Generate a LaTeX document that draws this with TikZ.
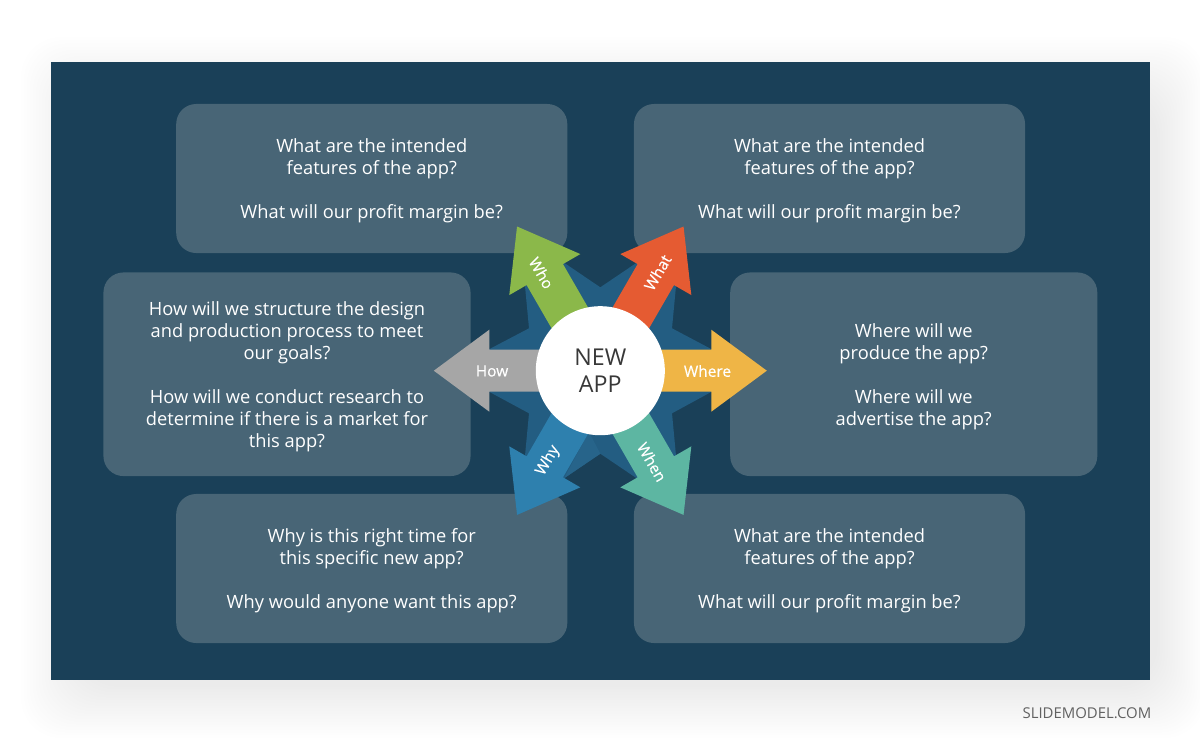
\documentclass[tikz,border=0pt]{standalone}
\usepackage{fontspec}
\setmainfont{Open Sans}
\newfontfamily\tagfont[FakeBold=0.3]{Open Sans}
\usepackage{xcolor}
\usetikzlibrary{positioning}

\definecolor{panelblue}{HTML}{1A4058}
\definecolor{boxblue}{HTML}{486576}
\definecolor{starblue}{HTML}{235D82}
\definecolor{facetblue}{HTML}{27648A}
\definecolor{whogreen}{HTML}{8BB84A}
\definecolor{whatred}{HTML}{E55B32}
\definecolor{whereyellow}{HTML}{EFB546}
\definecolor{howgrey}{HTML}{A6A6A6}
\definecolor{whyblue}{HTML}{2E80AE}
\definecolor{whenteal}{HTML}{5DB6A2}

% drops a box's text a little below its centre
\newcommand{\droptext}{\rule{0pt}{13.2pt}}

\tikzset{
  widebox/.style={fill=boxblue, rounded corners=0.5cm, inner sep=0pt, align=center, text=white,
    minimum width=9.775cm, minimum height=3.725cm,
    font=\fontsize{13}{15.65}\selectfont},
  tallbox/.style={widebox, minimum width=9.175cm, minimum height=5.09cm},
  tag/.style={text=white, inner sep=0pt, font=\tagfont\fontsize{11}{13}\selectfont}
}

\begin{document}
\begin{tikzpicture}[x=0.025cm, y=-0.025cm]
\useasboundingbox (0,0) rectangle (1200,743);

% soft shadow under the panel
\foreach \i in {0,...,19}
  \fill [black, opacity=0.0055, rounded corners=1cm]
  (51-30+3*\i,62-25+3.2*\i) rectangle (1150+55-2.5*\i,680+58-2.7*\i);

\fill [panelblue] (51,62) rectangle (1150,680);

\node [widebox] (whobox) at (371.75,178.5) {\droptext What are the intended\\features of the app?\\[15.65pt]What will our profit margin be?};
\node [widebox] (whatbox) at (829.5,178.5) {\droptext What are the intended\\features of the app?\\[15.65pt]What will our profit margin be?};
\node [tallbox] (howbox) at (287,374.25) {\droptext How will we structure the design\\and production process to meet\\our goals?\\[15.65pt]How will we conduct research to\\determine if there is a market for\\this app?};
\node [tallbox] (wherebox) at (913.75,374.25) {\droptext Where will we\\produce the app?\\[15.65pt]Where will we\\advertise the app?};
\node [widebox] (whybox) at (371.75,568.5) {\droptext Why is this right time for\\this specific new app?\\[15.65pt]Why would anyone want this app?};
\node [widebox] (whenbox) at (829.5,568.5) {\droptext What are the intended\\features of the app?\\[15.65pt]What will our profit margin be?};

% star behind the arrows
\fill [starblue]
(600.3,287.3) -- (636.7,262.7) -- (676,286) -- (672,328.3) -- (711.7,349.3) --
(711.7,391.7) -- (672,413.3) -- (676,455.7) -- (636.7,478.3) -- (600.3,453.7) --
(564,478.3) -- (525,455.7) -- (529,413.3) -- (489,391.7) -- (489,349.3) --
(529,328.3) -- (525,286) -- (564,262.7) -- cycle;
\fill [facetblue] (564,478.3) -- (600.3,453.7) -- (589,432) -- cycle;

% the six arrows, all one shape
\foreach \ang/\col in {0/whereyellow, 60/whatred, 120/whogreen, 180/howgrey, 240/whyblue, 300/whenteal}
  \fill [\col, shift={(600.3,370.7)}, rotate=\ang]
  (0,-21) -- (111,-21) -- (111,-41) -- (166.5,0) -- (111,41) -- (111,21) -- (0,21) -- cycle;

\node [tag] (wherelabel) at (707.5,371) {Where};
\node [tag, rotate=60] (whatlabel) at (657.5,272.5) {What};
\node [tag, rotate=-60] (wholabel) at (541.5,273) {Who};
\node [tag] (howlabel) at (492,371) {How};
\node [tag, rotate=60] (whylabel) at (548,460.5) {Why};
\node [tag, rotate=-60] (whenlabel) at (652,462) {When};

\node [circle, fill=white, minimum size=3.225cm, inner sep=0pt, align=center, text=black!78,
  font=\fontsize{16.5}{19.2}\selectfont] (core) at (600.3,370.7) {NEW\\APP};

\node [anchor=east, inner sep=0pt, text=black!62, font=\fontsize{10.6}{12}\selectfont] (brand) at (1151.5,713) {SLIDEMODEL.COM};
\end{tikzpicture}
\end{document}
